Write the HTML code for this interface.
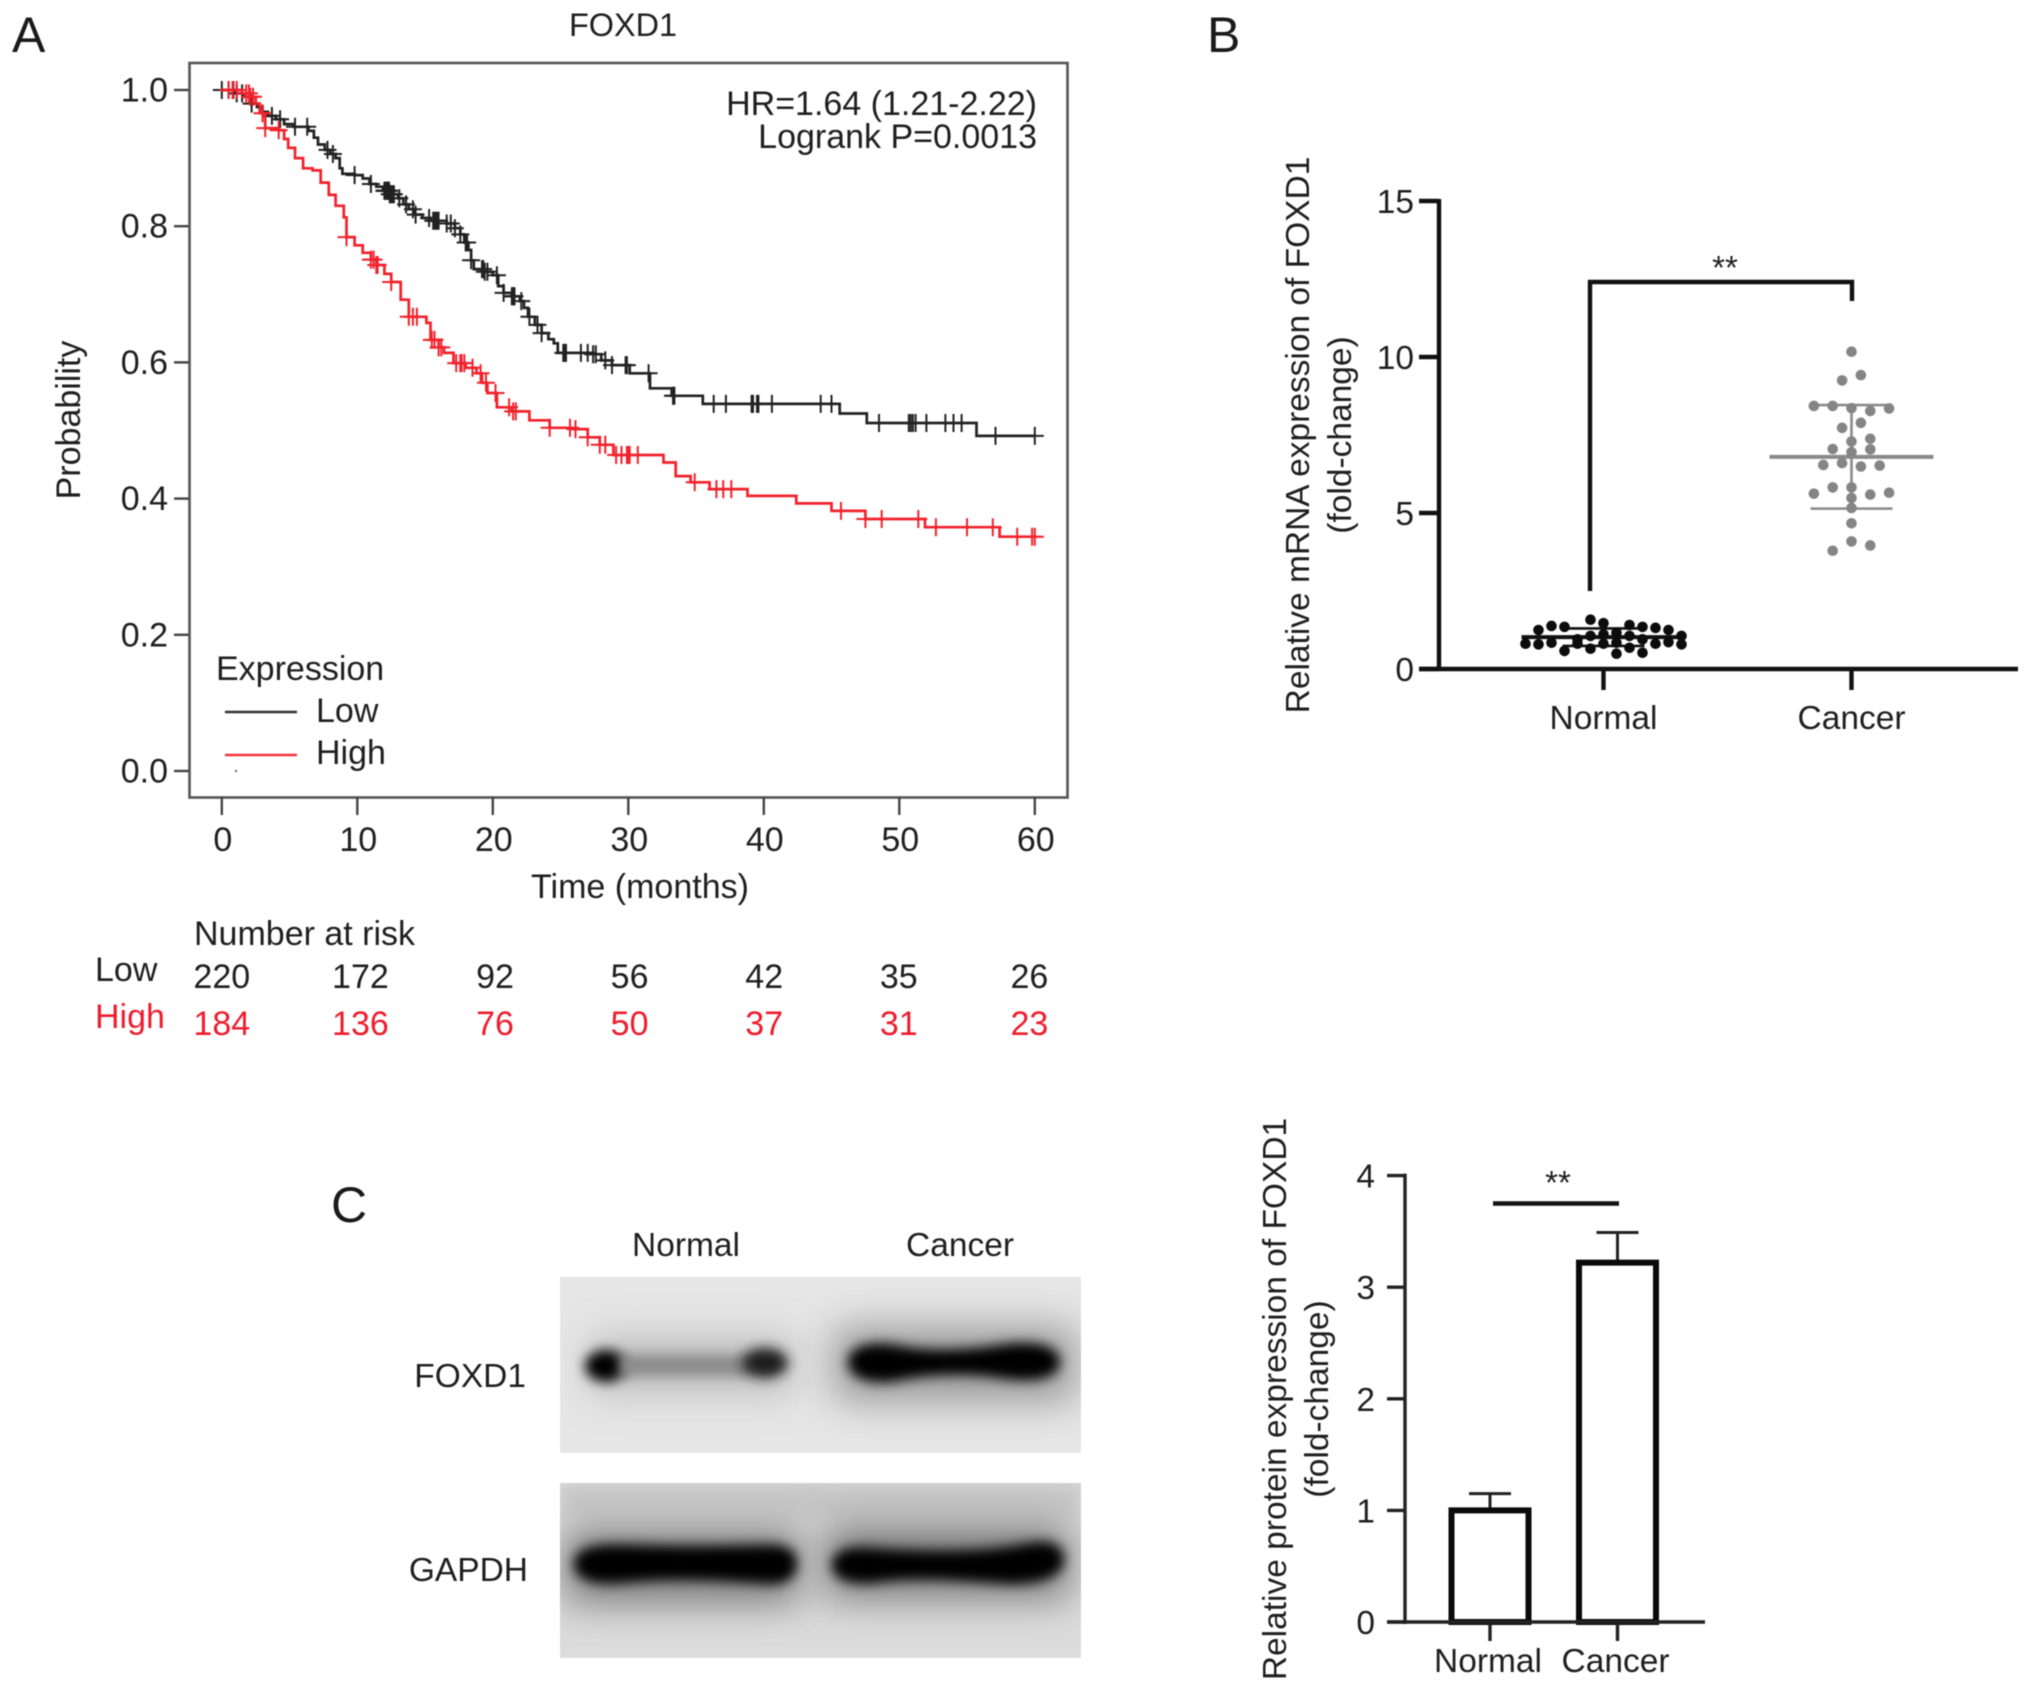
<!DOCTYPE html>
<html lang="en">
<head>
<meta charset="utf-8">
<title>FOXD1 expression figure</title>
<style>
html,body{margin:0;padding:0;background:#fff;width:2032px;height:1688px;overflow:hidden}
svg{display:block;filter:blur(.6px)}
text{font-family:"Liberation Sans",Arial,sans-serif;font-size:33.5px;fill:#1f1f1f}
#panelA text{font-size:34px}
.red{fill:#ee1c2e}
.letter{font-size:50px;fill:#1a1a1a}
</style>
</head>
<body>
<svg id="fig" xmlns="http://www.w3.org/2000/svg" width="2032" height="1688" viewBox="0 0 2032 1688">
  <defs>
    <filter id="b4" x="-30%" y="-80%" width="160%" height="260%"><feGaussianBlur stdDeviation="6"/></filter>
    <filter id="b8" x="-30%" y="-100%" width="160%" height="300%"><feGaussianBlur stdDeviation="9"/></filter>
    <filter id="b20" x="-30%" y="-150%" width="160%" height="400%"><feGaussianBlur stdDeviation="20"/></filter>
    <clipPath id="clip1"><rect x="560" y="1277" width="521" height="176"/></clipPath>
    <clipPath id="clip2"><rect x="560" y="1483" width="521" height="175"/></clipPath>
  </defs>

  <rect width="2032" height="1688" fill="#fff"/>

  <!-- Panel letters -->
  <text class="letter" x="12" y="52">A</text>
  <text class="letter" x="1207" y="52">B</text>
  <text class="letter" x="331" y="1222">C</text>

  <!-- Panel A -->
  <g id="panelA">
    <text x="623" y="36" text-anchor="middle" style="font-size:32.4px">FOXD1</text>
    <rect x="189.5" y="63" width="878" height="734.5" fill="none" stroke="#555" stroke-width="2.6"/>
    <text x="1037" y="115" text-anchor="end">HR=1.64 (1.21-2.22)</text>
    <text x="1037" y="148" text-anchor="end">Logrank P=0.0013</text>
    <text transform="translate(80,420) rotate(-90)" text-anchor="middle">Probability</text>
    <text x="640" y="898" text-anchor="middle">Time (months)</text>
    <text x="216" y="680">Expression</text>
    <line x1="225" x2="297" y1="712" y2="712" stroke="#333" stroke-width="2.4"/>
    <text x="316" y="722">Low</text>
    <line x1="225" x2="297" y1="755" y2="755" stroke="#f2343c" stroke-width="2.4"/>
    <text x="316" y="764">High</text>
    <rect x="235" y="770" width="2" height="2" fill="#666"/>
    <text x="194" y="945">Number at risk</text>
    <text x="95" y="981">Low</text>
    <text class="red" x="95" y="1028">High</text>
    <g id="axesA"></g>
    <g id="curvesA"></g>
    <g id="riskA"></g>
  </g>

  <!-- Panel B -->
  <g id="panelB">
    <text transform="translate(1309,435) rotate(-90)" text-anchor="middle">Relative mRNA expression of FOXD1</text>
    <text transform="translate(1351,435) rotate(-90)" text-anchor="middle">(fold-change)</text>
    <g id="axesB"></g>
    <g id="dotsB"></g>
    <path d="M1590 591V282H1852V301" fill="none" stroke="#111" stroke-width="4.4"/>
    <text x="1725" y="279" text-anchor="middle" style="font-size:33px">**</text>
  </g>

  <!-- Panel C blots -->
  <g id="panelC">
    <text x="686" y="1256" text-anchor="middle">Normal</text>
    <text x="960" y="1256" text-anchor="middle">Cancer</text>
    <text x="526" y="1387" text-anchor="end">FOXD1</text>
    <text x="528" y="1581" text-anchor="end">GAPDH</text>

    <g clip-path="url(#clip1)">
      <rect x="560" y="1277" width="521" height="176" fill="#e6e6e6"/>
      <rect x="590" y="1338" width="205" height="54" fill="#a8a8a8" filter="url(#b20)" opacity=".7"/>
      <rect x="835" y="1328" width="240" height="72" fill="#8c8c8c" filter="url(#b20)" opacity=".9"/>
      <ellipse cx="606" cy="1366" rx="21" ry="16" fill="#000" filter="url(#b4)"/>
      <path d="M620 1355H752V1376H620Z" fill="#8a8a8a" filter="url(#b4)"/>
      <ellipse cx="765" cy="1363" rx="23" ry="15" fill="#1d1d1d" filter="url(#b4)"/>
      <path d="M848 1362C848 1343 880 1341 900 1346C930 1352 970 1350 1000 1345C1030 1340 1060 1344 1060 1362C1060 1380 1030 1383 1000 1378C970 1373 930 1374 900 1380C880 1385 848 1382 848 1362Z" fill="#000" filter="url(#b4)"/>
    </g>

    <g clip-path="url(#clip2)">
      <rect x="560" y="1483" width="521" height="175" fill="#dcdcdc"/>
      <rect x="560" y="1483" width="521" height="34" fill="#c8c8c8" filter="url(#b8)"/>
      <rect x="565" y="1530" width="235" height="72" fill="#777" filter="url(#b20)"/>
      <rect x="825" y="1526" width="245" height="72" fill="#777" filter="url(#b20)"/>
      <path d="M574 1564C574 1546 600 1544 630 1545C680 1547 730 1546 770 1545C790 1545 797 1552 797 1564C797 1578 786 1584 770 1584C720 1580 670 1578 630 1582C600 1586 574 1582 574 1564Z" fill="#000" filter="url(#b4)"/>
      <path d="M832 1565C832 1550 850 1546 870 1548C910 1551 980 1554 1030 1543C1056 1539 1064 1548 1064 1560C1064 1576 1042 1584 1010 1584C970 1582 920 1576 880 1582C852 1586 832 1580 832 1565Z" fill="#000" filter="url(#b4)"/>
    </g>
  </g>

  <!-- Panel C bars -->
  <g id="panelD">
    <text transform="translate(1286,1399) rotate(-90)" text-anchor="middle">Relative protein expression of FOXD1</text>
    <text transform="translate(1328,1399) rotate(-90)" text-anchor="middle">(fold-change)</text>
    <g id="barsD"></g>
    <g id="axesD"></g>
    <line x1="1493" x2="1619" y1="1203.5" y2="1203.5" stroke="#111" stroke-width="4.4"/>
    <text x="1558" y="1194" text-anchor="middle" style="font-size:33px">**</text>
  </g>
</svg>

<script>
/* ---------- Panel A data ---------- */
const kmTicksX = [0, 10, 20, 30, 40, 50, 60];
const kmTicksY = [0, 0.2, 0.4, 0.6, 0.8, 1.0];
const lowTimes = [0,0.9,1.6,2.2,2.6,3.0,3.4,4.0,4.6,5.3,6.4,6.8,7.1,7.6,8.0,8.4,8.7,8.9,9.8,10.4,10.9,11.4,11.9,12.4,13.0,13.4,13.8,14.2,14.8,15.4,16.6,17.2,17.6,17.9,18.2,18.4,18.6,19.4,20.0,20.4,20.8,21.4,22.0,22.3,22.6,23.1,23.6,24.1,24.5,24.8,27.3,28.0,28.8,30.1,31.6,33.2,35.5,45.6,47.6,55.7];
const lowSurv = [1.0,0.995,0.99,0.98,0.975,0.968,0.962,0.957,0.95,0.946,0.94,0.93,0.92,0.912,0.906,0.9,0.885,0.877,0.875,0.87,0.862,0.858,0.852,0.847,0.841,0.832,0.825,0.817,0.812,0.808,0.804,0.797,0.788,0.776,0.765,0.75,0.737,0.733,0.728,0.712,0.702,0.697,0.69,0.68,0.667,0.655,0.643,0.634,0.628,0.614,0.612,0.603,0.596,0.584,0.562,0.551,0.539,0.525,0.511,0.492];
const lowCensor = [0,0.5,0.85,1.1,1.5,2.2,3.7,4.3,5.4,6.3,7.8,8.2,9.8,11,12,12.05,12.1,12.15,12.2,12.25,12.3,12.35,12.4,12.45,12.5,12.6,12.7,13.1,13.6,14.1,14.3,15.3,15.6,15.7,15.8,15.9,16,16.6,16.9,17.2,17.6,18,18.1,18.4,19.2,19.3,19.4,19.6,20.3,20.8,21.4,21.45,21.5,21.55,21.6,22.1,22.7,23.3,23.6,25.2,25.3,25.4,26.5,27,27.4,27.6,28.3,28.8,29.8,29.9,31.5,33.3,33.4,36.3,37.2,39.1,39.2,39.5,39.6,40.6,44.2,45,48.5,50.7,50.85,51,51.2,52,53.4,54,54.6,57.1,60];
const highTimes = [0,1.5,2.1,2.5,2.8,3.2,4.2,4.6,4.9,5.4,6.0,6.7,7.3,7.9,8.4,9.0,9.2,9.8,10.4,11.0,11.4,12.0,12.5,13.2,13.8,15.1,15.4,16.0,16.4,17.1,18.0,18.8,19.2,19.6,20.3,21.4,22.7,24.2,25.9,27.0,27.9,28.9,32.6,33.5,34.6,36.0,38.8,42.4,45.0,47.5,51.9,57.4];
const highSurv = [1.0,0.995,0.99,0.98,0.966,0.944,0.941,0.928,0.915,0.9,0.885,0.882,0.864,0.846,0.83,0.813,0.784,0.772,0.761,0.751,0.743,0.73,0.718,0.692,0.667,0.658,0.633,0.622,0.614,0.599,0.592,0.584,0.57,0.555,0.534,0.528,0.515,0.504,0.502,0.49,0.479,0.464,0.453,0.433,0.424,0.414,0.404,0.393,0.382,0.37,0.358,0.344];
const highCensor = [0.5,0.8,1.1,1.8,2,2.1,2.3,3,3.2,4.2,9.2,11,11.2,11.4,11.5,12.5,13.8,14.1,14.4,15.5,15.7,16,16.2,17.3,17.6,17.7,17.9,18.5,19.1,19.5,20.2,21.2,21.5,21.7,24.2,25.7,26.1,27,27.9,28.3,29.1,29.5,29.9,30,30.1,30.7,34.9,36.5,37,37.6,45.7,47.5,48.7,51.4,52.7,55,56.9,58.7,59.8,60];
const riskTimes = [0, 10, 20, 30, 40, 50, 60];
const riskLow = [220, 172, 92, 56, 42, 35, 26];
const riskHigh = [184, 136, 76, 50, 37, 31, 23];

/* ---------- Panel B data ---------- */
const mrnaTicks = [0, 5, 10, 15];
const mrnaCategories = ['Normal', 'Cancer'];
const mrnaMeans = [1.02, 6.80];
const mrnaSds = [0.28, 1.66];
const normalValues = [0.81,1.25,0.79,1.38,0.84,1.35,0.58,0.81,0.95,1.58,0.65,1.06,1.47,1.11,0.81,1.16,0.84,0.49,1.41,1.06,0.68,1.35,0.52,0.95,1.32,0.81,1.25,0.86,1.06,0.79];
const normalSlots = [-6,-5,-5,-4,-4,-3,-3,-2,-2,-1,-1,-1,0,0,0,1,1,1,2,2,2,3,3,3,4,4,5,5,6,6];
const cancerValues = [10.17,9.25,9.42,8.43,8.43,8.36,8.27,8.35,7.73,7.89,7.29,7.38,7.05,6.95,7.04,6.54,6.6,6.49,6.52,5.62,5.82,5.82,5.48,5.59,5.65,5.16,4.67,4.09,3.79,3.96];
const cancerSlots = [0,-1,1,-4,-2,0,2,4,-1,1,0,2,-2,0,2,-3,-1,1,3,-4,-2,0,0,2,4,0,0,0,-2,2];

/* ---------- Panel C bar data ---------- */
const proteinTicks = [0, 1, 2, 3, 4];
const proteinCategories = ['Normal', 'Cancer'];
const proteinValues = [1.0, 3.22];
const proteinErrors = [0.15, 0.27];

/* ---------- helpers ---------- */
const NS = 'http://www.w3.org/2000/svg';
function mk(tag, attrs, parent, txt) {
  const el = document.createElementNS(NS, tag);
  for (const k in attrs) el.setAttribute(k, attrs[k]);
  if (txt !== undefined) el.textContent = txt;
  parent.appendChild(el);
  return el;
}
function fmt(v) { return v.toFixed(1); }

/* ---------- Panel A ---------- */
const xA = t => 221.8 + 13.55 * t;
const yA = s => 771 - 681 * s;
const axesA = document.getElementById('axesA');
const curvesA = document.getElementById('curvesA');
const riskA = document.getElementById('riskA');

kmTicksY.forEach(v => {
  let el = mk('line', {x1: 174, x2: 189, y1: yA(v), y2: yA(v), stroke: '#444', 'stroke-width': 2.4}, axesA);
  
  
  el = mk('text', {x: 168, y: yA(v) + 11.5, 'text-anchor': 'end'}, axesA, fmt(v));
  
  
});
kmTicksX.forEach(v => {
  let el = mk('line', {x1: xA(v), x2: xA(v), y1: 797, y2: 815, stroke: '#444', 'stroke-width': 2.4}, axesA);
  
  
  el = mk('text', {x: xA(v) + 1, y: 851, 'text-anchor': 'middle'}, axesA, String(v));
  
  
});

function kmPath(times, surv, end) {
  let d = 'M' + xA(times[0]) + ' ' + yA(surv[0]);
  for (let i = 1; i < times.length; i++) {
    d += 'H' + xA(times[i]).toFixed(1) + 'V' + yA(surv[i]).toFixed(1);
  }
  return d + 'H' + xA(end).toFixed(1);
}
function survAt(times, surv, t) {
  let s = surv[0];
  for (let i = 0; i < times.length; i++) { if (times[i] <= t) s = surv[i]; }
  return s;
}
function censorPath(t, s) {
  const x = xA(t), y = yA(s);
  return 'M' + (x - 9).toFixed(1) + ' ' + y.toFixed(1) + 'H' + (x + 9).toFixed(1) + 'M' + x.toFixed(1) + ' ' + (y - 9).toFixed(1) + 'V' + (y + 9).toFixed(1);
}

let lowLine = mk('path', {d: kmPath(lowTimes, lowSurv, 60), fill: 'none', stroke: '#222', 'stroke-width': 2.7}, curvesA);


lowCensor.forEach(t => {
  const m = mk('path', {d: censorPath(t, survAt(lowTimes, lowSurv, t)), fill: 'none', stroke: '#222', 'stroke-width': 2}, curvesA);
  
  
});
let highLine = mk('path', {d: kmPath(highTimes, highSurv, 60), fill: 'none', stroke: '#f2222c', 'stroke-width': 2.7}, curvesA);


highCensor.forEach(t => {
  const m = mk('path', {d: censorPath(t, survAt(highTimes, highSurv, t)), fill: 'none', stroke: '#f2222c', 'stroke-width': 2}, curvesA);
  
  
});

riskTimes.forEach((t, i) => {
  const cx = xA(t) + (t > 0 && t < 60 ? 4 : 0) - t * 0.09;
  let el = mk('text', {x: cx, y: 988, 'text-anchor': 'middle'}, riskA, String(riskLow[i]));
  
  
  el = mk('text', {x: cx, y: 1035, 'text-anchor': 'middle', class: 'red'}, riskA, String(riskHigh[i]));
  
  
});

/* ---------- Panel B ---------- */
const yB = v => 669 - 31.2 * v;
const xB = i => 1603.5 + 248 * i;
const axesB = document.getElementById('axesB');
const dotsB = document.getElementById('dotsB');

let bAxisY = mk('line', {x1: 1439, x2: 1439, y1: yB(15) - 2, y2: yB(0) + 2, stroke: '#111', 'stroke-width': 4.4}, axesB);


let bAxisX = mk('line', {x1: 1419, x2: 2018, y1: yB(0), y2: yB(0), stroke: '#111', 'stroke-width': 4.4}, axesB);


mrnaTicks.forEach(v => {
  let el = mk('line', {x1: 1419, x2: 1439, y1: yB(v), y2: yB(v), stroke: '#111', 'stroke-width': 4.4}, axesB);
  
  
  el = mk('text', {x: 1414, y: yB(v) + 12, 'text-anchor': 'end'}, axesB, String(v));
  
  
});
mrnaCategories.forEach((c, i) => {
  let el = mk('line', {x1: xB(i), x2: xB(i), y1: 669, y2: 690, stroke: '#111', 'stroke-width': 4.4}, axesB);
  
  
  el = mk('text', {x: xB(i), y: 729, 'text-anchor': 'middle'}, axesB, c);
  
  
});

function errorBars(i, color) {
  const cx = xB(i), m = mrnaMeans[i], sd = mrnaSds[i];
  let el = mk('line', {x1: cx, x2: cx, y1: yB(m + sd), y2: yB(m - sd), stroke: color, 'stroke-width': 2.6}, dotsB);
  
  
  el = mk('line', {x1: cx - 41, x2: cx + 41, y1: yB(m + sd), y2: yB(m + sd), stroke: color, 'stroke-width': 2.6}, dotsB);
  
  
  el = mk('line', {x1: cx - 41, x2: cx + 41, y1: yB(m - sd), y2: yB(m - sd), stroke: color, 'stroke-width': 2.6}, dotsB);
  
  
  el = mk('line', {x1: cx - 82, x2: cx + 82, y1: yB(m), y2: yB(m), stroke: color, 'stroke-width': 4}, dotsB);
  
  
}
errorBars(0, '#111');
errorBars(1, '#8a8a8a');
normalValues.forEach((v, i) => {
  const c = mk('circle', {cx: xB(0) + normalSlots[i] * 13, cy: yB(v), r: 5.3, fill: '#0c0c0c'}, dotsB);
  
  
});
cancerValues.forEach((v, i) => {
  const c = mk('circle', {cx: xB(1) + cancerSlots[i] * 9.4, cy: yB(v), r: 5.3, fill: '#858585'}, dotsB);
  
  
});

/* ---------- Protein bars ---------- */
const yD = v => 1622 - 111.6 * v;
const xD = i => 1490 + 127.5 * i;
const axesD = document.getElementById('axesD');
const barsD = document.getElementById('barsD');

proteinCategories.forEach((c, i) => {
  const v = proteinValues[i], e = proteinErrors[i], cx = xD(i);
  let el = mk('line', {x1: cx, x2: cx, y1: yD(v + e), y2: yD(v), stroke: '#222', 'stroke-width': 3}, barsD);
  
  
  el = mk('line', {x1: cx - 21, x2: cx + 21, y1: yD(v + e), y2: yD(v + e), stroke: '#222', 'stroke-width': 3}, barsD);
  
  
  el = mk('rect', {x: cx - 38.5, y: yD(v), width: 77, height: yD(0) - yD(v), fill: '#fff', stroke: '#0a0a0a', 'stroke-width': 6}, barsD);
  
  
  el = mk('line', {x1: cx, x2: cx, y1: 1622, y2: 1641, stroke: '#222', 'stroke-width': 3.4}, axesD);
  
  
  el = mk('text', {x: cx - 2, y: 1672, 'text-anchor': 'middle'}, axesD, c);
  
  
});
let dAxisY = mk('line', {x1: 1405, x2: 1405, y1: yD(4) - 2, y2: yD(0) + 2, stroke: '#222', 'stroke-width': 3.4}, axesD);


let dAxisX = mk('line', {x1: 1387, x2: 1705, y1: yD(0), y2: yD(0), stroke: '#222', 'stroke-width': 3.4}, axesD);


proteinTicks.forEach(v => {
  let el = mk('line', {x1: 1387, x2: 1405, y1: yD(v), y2: yD(v), stroke: '#222', 'stroke-width': 3.4}, axesD);
  
  
  el = mk('text', {x: 1375, y: yD(v) + 12, 'text-anchor': 'end'}, axesD, String(v));
  
  
});
</script>
</body>
</html>
